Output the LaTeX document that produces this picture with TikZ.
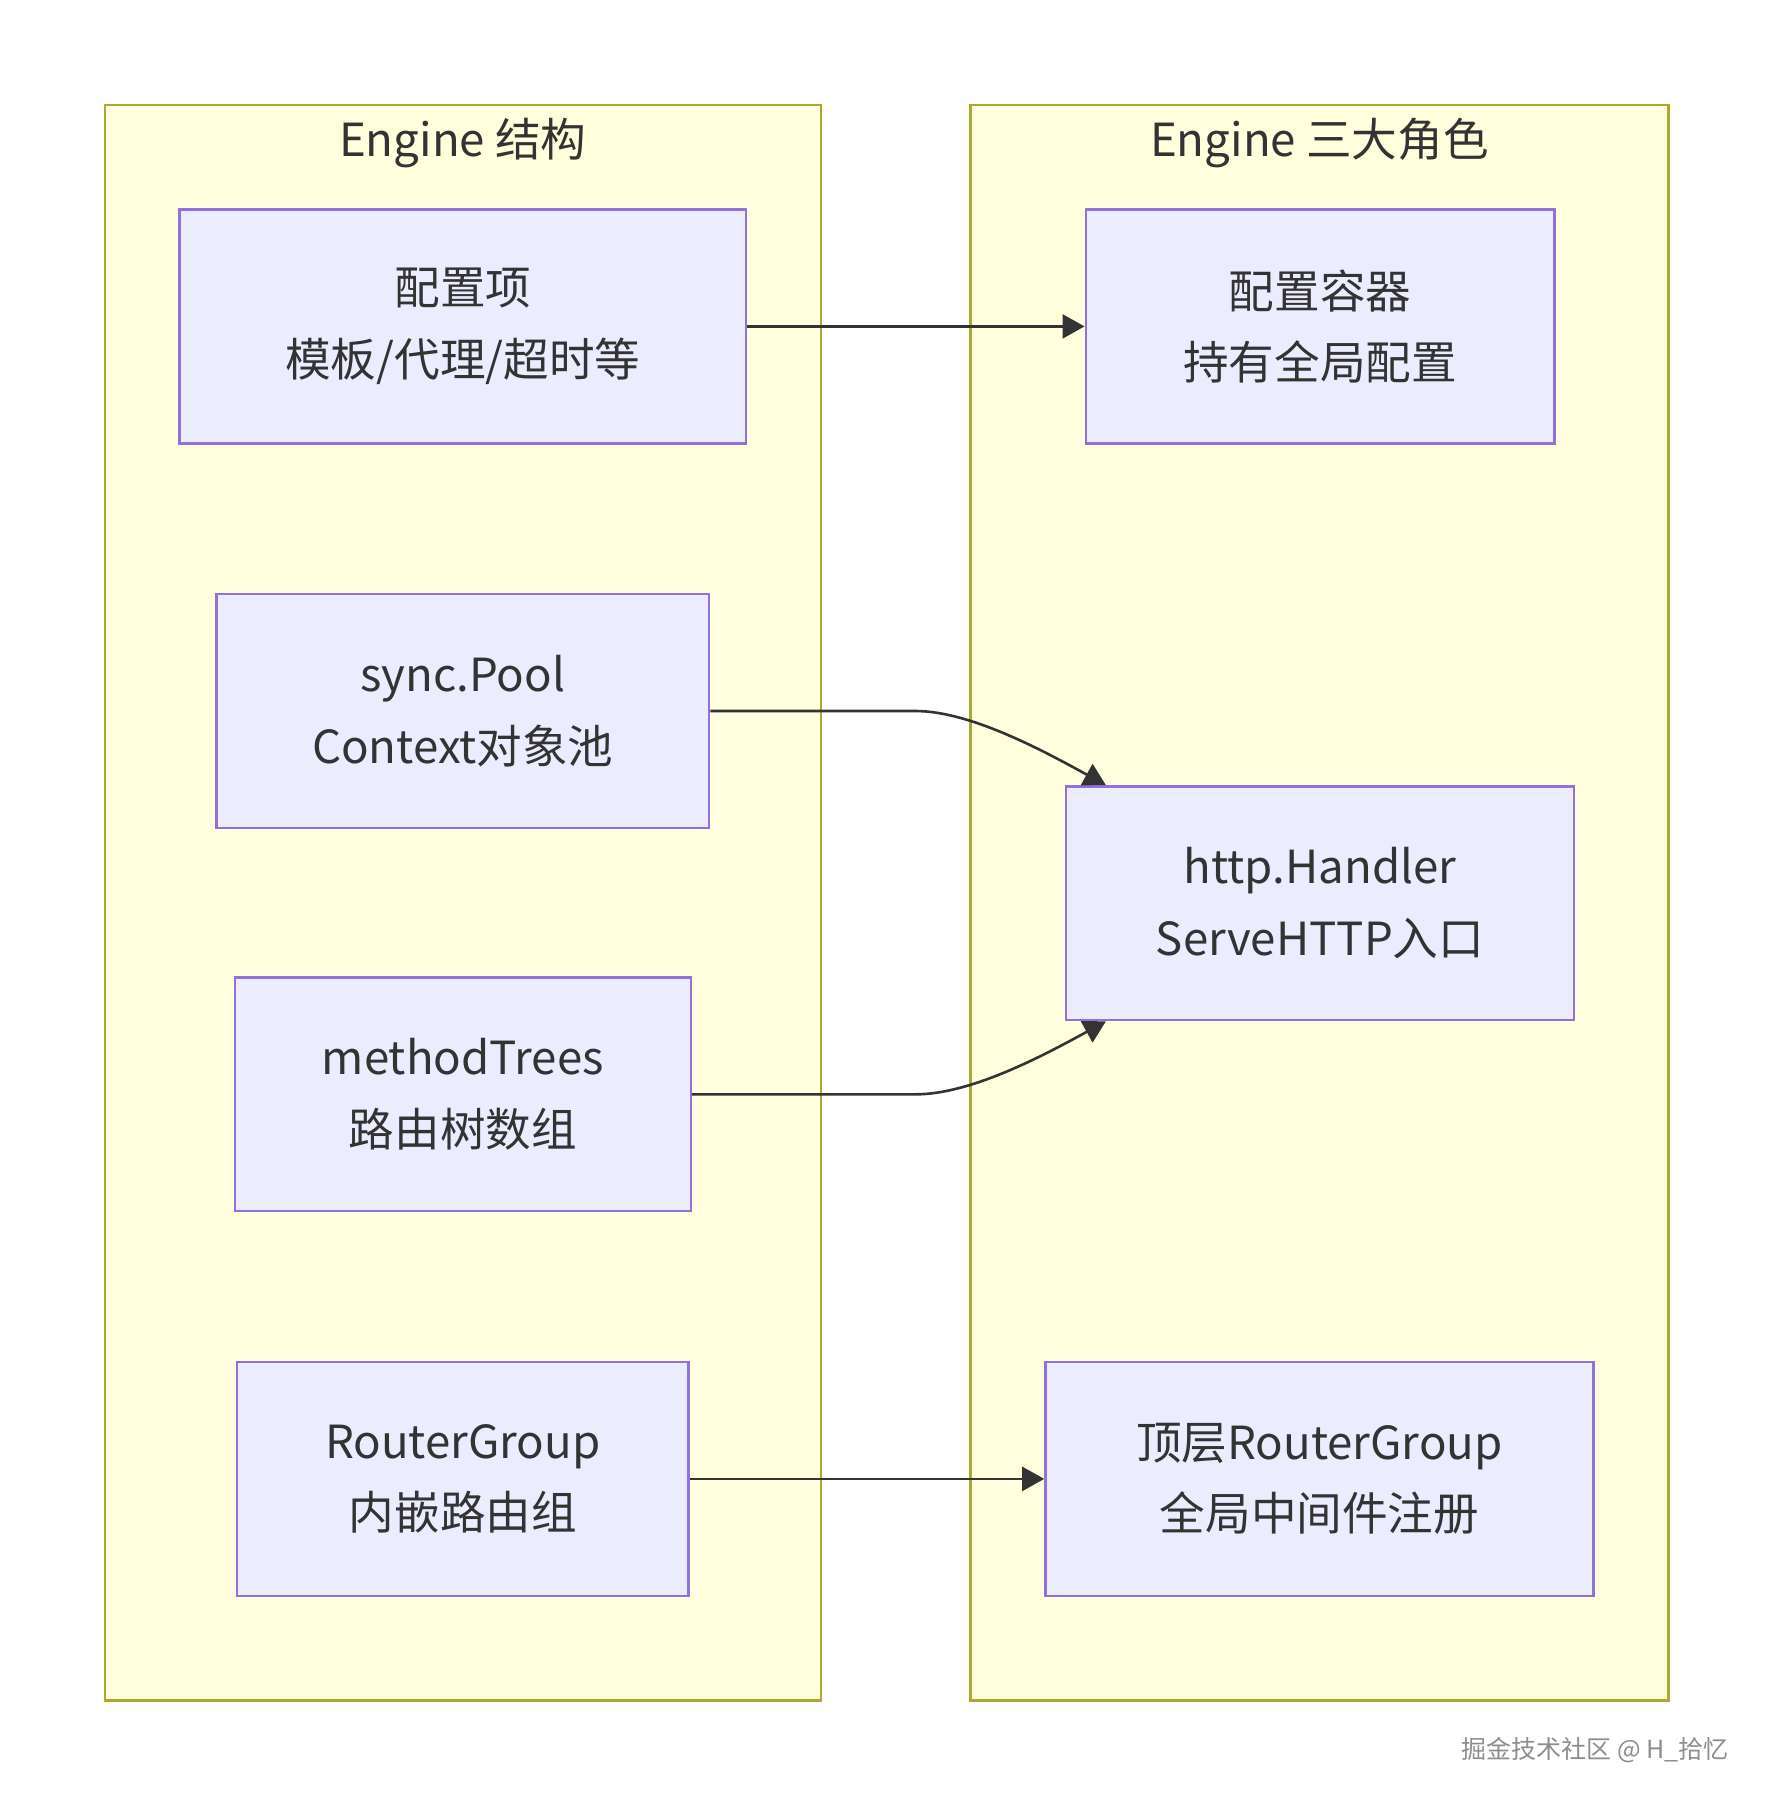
\documentclass[tikz,border=0pt]{standalone}
\usepackage{fontspec}
\setmainfont{Noto Sans CJK SC}
\usetikzlibrary{arrows.meta,positioning,calc}
\definecolor{clusterfill}{HTML}{FFFFDE}
\definecolor{clusterline}{HTML}{AAAA33}
\definecolor{boxfill}{HTML}{ECECFF}
\definecolor{boxline}{HTML}{9370DB}
\definecolor{ink}{HTML}{333333}
\definecolor{markgray}{HTML}{8E8E8E}

\begin{document}
\begin{tikzpicture}[
    x=0.5pt,y=0.5pt,
    cluster/.style={rectangle,draw=clusterline,fill=clusterfill,line width=1.2pt,minimum height=797.9pt,inner sep=0pt},
    block/.style={rectangle,draw=boxline,fill=boxfill,line width=1.2pt,align=center,text=ink,font=\fontsize{22.8}{35.7}\selectfont,minimum height=116.9pt,inner sep=0pt},
    title/.style={text=ink,font=\fontsize{22.8}{27}\selectfont,inner sep=0pt},
    arrow/.style={draw=ink,line width=1.3pt,-{Triangle[length=11pt,width=12pt]}}
]
    \fill[white] (0,0) rectangle (1773,-1805);
    \useasboundingbox (0,0) rectangle (1773,-1805);

    \node[cluster,minimum width=358pt] (struct) at (462.8,-902.65) {};
    \node[cluster,minimum width=348.9pt] (roles) at (1319.4,-902.65) {};
    \node[title] (structtitle) at (462.8,-143) {Engine 结构};
    \node[title] (rolestitle) at (1319.4,-143) {Engine 三大角色};

    \node[block,minimum width=283.2pt] (conf) at (462.8,-326.4) {配置项\\模板/代理/超时等};
    \node[block,minimum width=246.4pt] (pool) at (462.8,-711) {sync.Pool\\Context对象池};
    \node[block,minimum width=228pt] (trees) at (462.8,-1094.3) {methodTrees\\路由树数组};
    \node[block,minimum width=225.7pt] (group) at (462.8,-1478.9) {RouterGroup\\内嵌路由组};

    \node[block,minimum width=234.3pt] (holder) at (1320,-326.4) {配置容器\\持有全局配置};
    \node[block,minimum width=253.9pt] (handler) at (1320,-903.2) {http.Handler\\ServeHTTP入口};
    \node[block,minimum width=274pt] (topgroup) at (1319.4,-1478.9) {顶层RouterGroup\\全局中间件注册};

    \node[anchor=east,text=markgray,font=\fontsize{12.5}{15}\selectfont,inner sep=0pt] (mark) at (1729,-1750) {掘金技术社区 @ H\_拾忆};

    \draw[arrow] (conf) -- (holder);
    \draw[arrow] (pool.east) -- ++(205,0) .. controls +(55,0) and +(-62,34) .. ([xshift=20.5pt]handler.north west);
    \draw[arrow] (trees.east) -- ++(224,0) .. controls +(55,0) and +(-62,-34) .. ([xshift=20.5pt]handler.south west);
    \draw[arrow] (group) -- (topgroup);
\end{tikzpicture}
\end{document}
